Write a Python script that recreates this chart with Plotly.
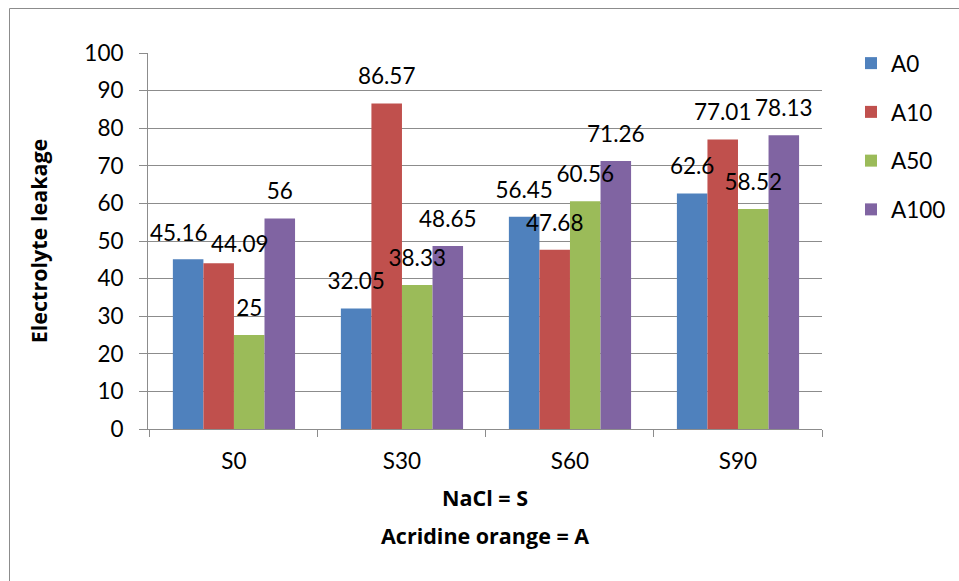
import plotly.graph_objects as go

categories = ["S0", "S30", "S60", "S90"]
series_names = ["A0", "A10", "A50", "A100"]
A0 = [45.16, 32.05, 56.45, 62.6]
A10 = [44.09, 86.57, 47.68, 77.01]
A50 = [25, 38.33, 60.56, 58.52]
A100 = [56, 48.65, 71.26, 78.13]
series_values = [A0, A10, A50, A100]
colors = ["#4F81BD", "#C0504D", "#9BBB59", "#8064A2"]
y_ticks = list(range(0, 101, 10))

# labels that were hand-moved in the original (pixel nudges: dx, dy-up)
label_nudges = {("A0", "S0"): (-9, 0), ("A10", "S0"): (21, -7)}

FONT = "Lato"
TFONT = "Open Sans"
GRID = "#8C8C8C"
LSIZE = 22.5

W, H = 959, 581
L, R, T, B = 148, 822, 53, 429

def px_x(px):
    return (px - L) / (R - L)

def px_y(py):
    return (B - py) / (B - T)

GAP = 1.5 / 5.5
LABEL_RISE = 27  # label centre above bar end, px

fig = go.Figure()
for i, (name, vals) in enumerate(zip(series_names, series_values)):
    fig.add_trace(go.Bar(
        x=categories, y=vals, name=name,
        marker=dict(color=colors[i], line=dict(width=0)),
        offsetgroup=str(i), legendgroup=name,
    ))
for i, (name, vals) in enumerate(zip(series_names, series_values)):
    texts = ["" if (name, c) in label_nudges else f"{v:g}" for c, v in zip(categories, vals)]
    fig.add_trace(go.Scatter(
        x=categories, y=vals, name=name, mode="markers+text",
        marker=dict(size=20, opacity=0, color=colors[i]),
        text=texts, textposition="top center",
        textfont=dict(family=FONT, size=LSIZE, color="black"),
        offsetgroup=str(i), legendgroup=name, showlegend=False,
        cliponaxis=False, hoverinfo="skip",
    ))

# hand-moved labels as annotations
n = len(series_names)
bar_w = (R - L) / len(categories) * (1 - GAP) / n
for i, (name, vals) in enumerate(zip(series_names, series_values)):
    for c, v in zip(categories, vals):
        if (name, c) in label_nudges:
            dx, dy = label_nudges[(name, c)]
            fig.add_annotation(
                x=c, y=v, xref="x", yref="y", text=f"{v:g}", showarrow=False,
                xanchor="center", yanchor="middle",
                xshift=(i - (n - 1) / 2) * bar_w + dx, yshift=LABEL_RISE + dy,
                font=dict(family=FONT, size=LSIZE, color="black"),
            )

fig.update_layout(
    width=W, height=H,
    margin=dict(l=L, r=W - R, t=T, b=H - B, pad=0, autoexpand=False),
    paper_bgcolor="white", plot_bgcolor="white",
    barmode="group", bargap=GAP, bargroupgap=0,
    scattermode="group", scattergap=GAP,
    font=dict(family=FONT, size=LSIZE, color="black"),
    showlegend=True,
    legend=dict(
        x=px_x(851), y=px_y(42), xanchor="left", yanchor="top",
        font=dict(family=FONT, size=LSIZE, color="black"),
        tracegroupgap=16.5, itemwidth=30, bgcolor="rgba(0,0,0,0)",
    ),
)

fig.update_yaxes(
    range=[0, 100], tickvals=y_ticks, ticktext=[str(v) for v in y_ticks],
    showgrid=True, gridcolor=GRID, gridwidth=1,
    showline=True, linecolor=GRID, linewidth=1,
    ticks="outside", ticklen=8, tickcolor=GRID, tickwidth=1,
    ticklabelstandoff=11, automargin=False,
    tickfont=dict(family=FONT, size=LSIZE, color="black"),
    zeroline=False,
    title=dict(text="<b>Electrolyte leakage</b>", standoff=30,
               font=dict(family=TFONT, size=21.5, color="black")),
)
fig.update_xaxes(
    showline=True, linecolor=GRID, linewidth=1,
    ticks="outside", ticklen=7, tickcolor=GRID, tickwidth=1,
    tickson="boundaries", ticklabelstandoff=12, automargin=False,
    tickfont=dict(family=FONT, size=LSIZE, color="black"),
    showgrid=False,
)

fig.add_annotation(text="<b>NaCl = S</b>", x=0.5, y=px_y(497), xref="paper", yref="paper",
                   xanchor="center", yanchor="middle", showarrow=False,
                   font=dict(family=TFONT, size=21.5, color="black"))
fig.add_annotation(text="<b>Acridine orange = A</b>", x=0.5, y=px_y(535), xref="paper", yref="paper",
                   xanchor="center", yanchor="middle", showarrow=False,
                   font=dict(family=TFONT, size=21.5, color="black"))

# outer chart border (right/bottom edges fall outside the visible area)
fig.add_shape(type="rect", xref="paper", yref="paper",
              x0=px_x(9.5), y0=px_y(600), x1=px_x(1000), y1=px_y(8.5),
              line=dict(color=GRID, width=1), fillcolor="rgba(0,0,0,0)", layer="below")

fig.write_html("out.html", config={"displayModeBar": False},
               post_script="document.body.style.margin='0';")
